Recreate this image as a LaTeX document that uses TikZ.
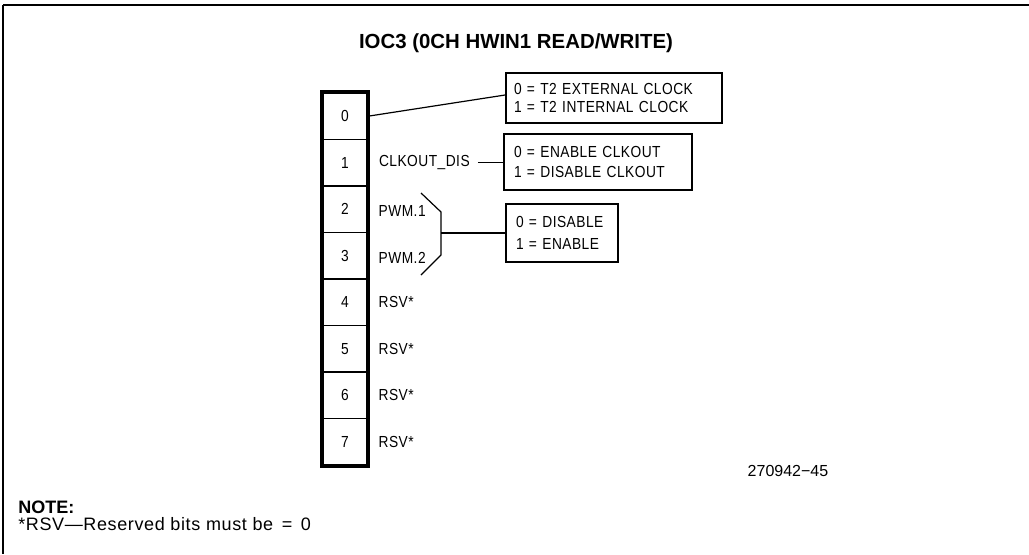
\documentclass[tikz,border=0pt]{standalone}
\usepackage{fontspec}
\setmainfont{Liberation Sans}
\newfontfamily\plotfont[FakeStretch=0.86, LetterSpace=3]{Liberation Sans}
\newfontfamily\notefont[LetterSpace=3.5]{Liberation Sans}
\usetikzlibrary{positioning}

\tikzset{
  bitcell/.style={draw, line width=1.1pt, minimum width=33pt, minimum height=34.875pt,
    inner sep=0pt, font=\plotfont\fontsize{12}{13}\selectfont},
  fieldlbl/.style={inner sep=0pt, font=\plotfont\fontsize{12}{13}\selectfont},
  infobox/.style={draw, line width=1.3pt, align=left, inner xsep=7.5pt,
    font=\plotfont\fontsize{12}{13.5}\selectfont},
  wire/.style={line width=0.9pt}
}

\begin{document}
\begin{tikzpicture}[x=0.75pt,y=-0.75pt]
  \useasboundingbox (0,0) rectangle (1029,554);
  % frame
  \draw[line width=1.4pt] (1029,5) -- (3,5);
  \draw[line width=0.8pt] (3,5) -- (3,554);

  \node[font=\bfseries\fontsize{15.3}{18}\selectfont] (title) at (516,43) {IOC3 (0CH HWIN1 READ/WRITE)};

  % register bits
  \foreach \b in {0,...,7}
    \node[bitcell] (b\b) at (345,116.25+46.5*\b) {\b};
  \draw[line width=3.2pt] (b0.north west) rectangle (b7.south east);

  % field names
  \node[fieldlbl, right=8.25pt of b1] (clkdis) {CLKOUT\_DIS};
  \node[fieldlbl, right=8pt of b2, yshift=-1.5pt] (pwm1) {PWM.1};
  \node[fieldlbl, right=8pt of b3, yshift=-1.5pt] (pwm2) {PWM.2};
  \foreach \b in {4,...,7}
    \node[fieldlbl, right=8pt of b\b] (rsv\b) {RSV*};

  % value boxes
  \node[infobox, text width=150pt, minimum height=37.5pt, inner xsep=6pt] (box1) at (614,98)
    {0 = T2 EXTERNAL CLOCK\\1 = T2 INTERNAL CLOCK};
  \node[infobox, text width=126pt, minimum height=42pt,
    font=\plotfont\fontsize{12}{15.5}\selectfont] (box2) at (598,162)
    {0 = ENABLE CLKOUT\\1 = DISABLE CLKOUT};
  \node[infobox, text width=69pt, minimum height=43.5pt,
    font=\plotfont\fontsize{12}{16.5}\selectfont] (box3) at (562,233)
    {0 = DISABLE\\1 = ENABLE};

  % connectors
  \draw[wire] (b0.east) -- ([yshift=2.25pt]box1.west);
  \draw[wire] ([xshift=6pt]clkdis.east) -- (clkdis.east -| box2.west);
  \coordinate (brk) at (441,233);
  \draw[wire] (421,193) -- (441,212) -- (441,255) -- (421,275);
  \draw[wire] (brk) -- (box3.west);

  \node[font=\fontsize{12}{14}\selectfont] (fig) at (788,471) {270942−45};

  % note
  \node[anchor=west, inner sep=0pt, font=\bfseries\fontsize{13.5}{15}\selectfont] (note) at (18,507) {NOTE:};
  \node[anchor=west, inner sep=0pt, font=\notefont\fontsize{13.5}{15}\selectfont] (notetxt) at (18,524)
    {*RSV—Reserved bits must be \,=\, 0};
\end{tikzpicture}
\end{document}
